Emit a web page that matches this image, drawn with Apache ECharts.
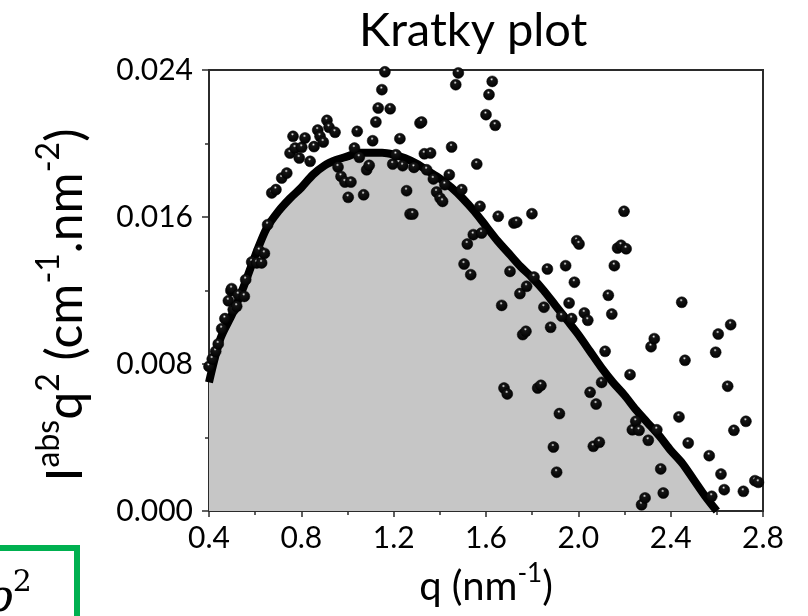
<!DOCTYPE html>
<html>
<head>
<meta charset="utf-8">
<style>
  html, body { margin: 0; padding: 0; background: #fff; }
  #chart { width: 808px; height: 616px; }
</style>
<script src="https://cdn.jsdelivr.net/npm/echarts@6/dist/echarts.min.js"></script>
</head>
<body>
<div id="chart"></div>
<script>
// Fitted Kratky curve (q in nm^-1, I*q^2 in cm^-1.nm^-2)
const fitQ = [0.40, 0.45, 0.50, 0.55, 0.60, 0.65, 0.70, 0.75, 0.80, 0.85,
              0.90, 0.95, 1.00, 1.05, 1.10, 1.15, 1.20, 1.25, 1.30, 1.35,
              1.40, 1.45, 1.50, 1.55, 1.60, 1.65, 1.70, 1.75, 1.80, 1.85,
              1.90, 1.95, 2.00, 2.05, 2.10, 2.15, 2.20, 2.25, 2.30, 2.35,
              2.40, 2.45, 2.50, 2.55, 2.60];
const fitI = [0.0070, 0.0094, 0.0107, 0.0122, 0.0139, 0.0154, 0.0163, 0.0170, 0.0176, 0.0183,
              0.0188, 0.0191, 0.0193, 0.0195, 0.0195, 0.0195, 0.0194, 0.0192, 0.0189, 0.0185,
              0.0181, 0.0176, 0.0170, 0.0163, 0.0155, 0.0147, 0.0140, 0.0133, 0.0127, 0.0120,
              0.0112, 0.0104, 0.0096, 0.0087, 0.0078, 0.0070, 0.0063, 0.0055, 0.0048, 0.0041,
              0.0033, 0.0026, 0.0017, 0.0008, 0.0000];

// Measured scattering points
const expQ = [0.400, 0.414, 0.429, 0.440, 0.455, 0.469, 0.484, 0.495, 0.498, 0.505,
              0.520, 0.527, 0.553, 0.559, 0.585, 0.607, 0.618, 0.628, 0.640, 0.654,
              0.672, 0.690, 0.715, 0.737, 0.751, 0.764, 0.773, 0.791, 0.802, 0.816,
              0.838, 0.855, 0.871, 0.881, 0.895, 0.911, 0.920, 0.946, 0.959, 0.972,
              0.989, 1.003, 1.015, 1.030, 1.042, 1.051, 1.070, 1.083, 1.094, 1.109,
              1.123, 1.133, 1.149, 1.162, 1.185, 1.196, 1.210, 1.227, 1.239, 1.256,
              1.271, 1.283, 1.288, 1.314, 1.321, 1.333, 1.343, 1.360, 1.372, 1.386,
              1.401, 1.412, 1.422, 1.441, 1.451, 1.469, 1.480, 1.495, 1.505, 1.519,
              1.534, 1.545, 1.560, 1.574, 1.581, 1.600, 1.613, 1.627, 1.640, 1.653,
              1.668, 1.678, 1.692, 1.704, 1.721, 1.733, 1.747, 1.759, 1.773, 1.776,
              1.799, 1.808, 1.824, 1.838, 1.851, 1.866, 1.880, 1.892, 1.906, 1.918,
              1.928, 1.945, 1.960, 1.971, 1.983, 1.993, 2.003, 2.026, 2.041, 2.051,
              2.065, 2.077, 2.091, 2.101, 2.116, 2.130, 2.145, 2.156, 2.170, 2.185,
              2.198, 2.207, 2.224, 2.234, 2.249, 2.263, 2.274, 2.289, 2.303, 2.315,
              2.329, 2.340, 2.357, 2.368, 2.436, 2.448, 2.462, 2.476, 2.567, 2.578,
              2.595, 2.606, 2.618, 2.632, 2.647, 2.660, 2.674, 2.715, 2.726, 2.765,
              2.780];
const expI = [0.00787, 0.00827, 0.00869, 0.00909, 0.00992, 0.01047, 0.01144, 0.01199, 0.01210, 0.01096,
              0.01114, 0.01177, 0.01168, 0.01259, 0.01355, 0.01350, 0.01417, 0.01350, 0.01402, 0.01558,
              0.01731, 0.01749, 0.01812, 0.01839, 0.01948, 0.02039, 0.01975, 0.01921, 0.01979, 0.02030,
              0.01903, 0.01983, 0.02073, 0.02039, 0.02008, 0.02126, 0.02088, 0.02061, 0.01872, 0.01821,
              0.01790, 0.01707, 0.01790, 0.01975, 0.02066, 0.01925, 0.01721, 0.01857, 0.01881, 0.02015,
              0.02117, 0.02193, 0.02293, 0.02390, 0.02189, 0.01888, 0.01939, 0.02026, 0.01879, 0.01743,
              0.01616, 0.01616, 0.01870, 0.02111, 0.02117, 0.01944, 0.01857, 0.01948, 0.01807, 0.01736,
              0.01703, 0.01685, 0.01776, 0.01830, 0.01981, 0.02320, 0.02384, 0.01749, 0.01344, 0.01453,
              0.01286, 0.01504, 0.01888, 0.01658, 0.01513, 0.02157, 0.02266, 0.02338, 0.02099, 0.01604,
              0.01119, 0.00669, 0.00637, 0.01304, 0.01567, 0.01572, 0.01183, 0.00960, 0.00978, 0.01223,
              0.01618, 0.01273, 0.00669, 0.00684, 0.01109, 0.01317, 0.01000, 0.00348, 0.00211, 0.00530,
              0.01060, 0.01335, 0.01132, 0.01047, 0.01245, 0.01471, 0.01453, 0.01078, 0.01038, 0.00646,
              0.00352, 0.00582, 0.00374, 0.00700, 0.00869, 0.01174, 0.01072, 0.01335, 0.01431, 0.01446,
              0.01631, 0.01427, 0.00742, 0.00442, 0.00488, 0.00439, 0.00034, 0.00071, 0.00385, 0.00894,
              0.00938, 0.00442, 0.00229, 0.00098, 0.00512, 0.01136, 0.00820, 0.00370, 0.00301, 0.00080,
              0.00864, 0.00963, 0.00201, 0.00116, 0.00679, 0.01014, 0.00439, 0.00107, 0.00488, 0.00165,
              0.00156];

const xTicks = ['0.4', '0.8', '1.2', '1.6', '2.0', '2.4', '2.8'];
const yTicks = ['0.000', '0.008', '0.016', '0.024'];

const FONT = 'Lato';
const AXIS_COLOR = '#2b2b2b';

const fitData = fitQ.map((q, i) => [q, fitI[i]]);
const expData = expQ.map((q, i) => [q, expI[i]]);

// Glossy black bead used for the measured points
const sphere = {
  type: 'radial', x: 0.45, y: 0.32, r: 0.7,
  colorStops: [
    { offset: 0, color: '#ffffff' },
    { offset: 0.08, color: '#9a9a9a' },
    { offset: 0.2, color: '#151515' },
    { offset: 1, color: '#000000' }
  ]
};

const chart = echarts.init(document.getElementById('chart'), null, { renderer: 'canvas' });

chart.setOption({
  animation: false,
  backgroundColor: '#ffffff',
  title: {
    text: 'Kratky plot',
    left: 354, top: 2,
    textStyle: { fontFamily: FONT, fontSize: 47, fontWeight: 'normal', color: '#000' }
  },
  grid: {
    left: 209, right: 45, top: 70, bottom: 105,
    show: true, borderColor: AXIS_COLOR, borderWidth: 2, backgroundColor: 'transparent'
  },
  xAxis: {
    type: 'value', min: 0.4, max: 2.8, interval: 0.4,
    name: '{m|q (nm}{s|-1}{m|)}',
    nameLocation: 'middle', nameGap: 50,
    nameTextStyle: {
      rich: {
        m: { fontFamily: FONT, fontSize: 40, color: '#000', lineHeight: 46, verticalAlign: 'bottom' },
        s: { fontFamily: FONT, fontSize: 26, color: '#000', lineHeight: 26, verticalAlign: 'top' }
      }
    },
    axisLine: { show: true, onZero: false, lineStyle: { color: AXIS_COLOR, width: 2 } },
    axisTick: { show: true, inside: false, length: 6, lineStyle: { color: AXIS_COLOR, width: 1.5 } },
    minorTick: { show: true, splitNumber: 2, length: 4, lineStyle: { color: AXIS_COLOR, width: 1.5 } },
    splitLine: { show: false },
    axisLabel: {
      margin: 12, fontFamily: FONT, fontSize: 30, color: '#000',
      formatter: v => xTicks[Math.round((v - 0.4) / 0.4)] ?? ''
    }
  },
  yAxis: {
    type: 'value', min: 0, max: 0.024, interval: 0.008,
    axisLine: { show: true, onZero: false, lineStyle: { color: AXIS_COLOR, width: 2 } },
    axisTick: { show: true, inside: false, length: 7, lineStyle: { color: AXIS_COLOR, width: 1.5 } },
    minorTick: { show: true, splitNumber: 2, length: 4, lineStyle: { color: AXIS_COLOR, width: 1.5 } },
    splitLine: { show: false },
    axisLabel: {
      margin: 16, fontFamily: FONT, fontSize: 30, color: '#000',
      formatter: v => yTicks[Math.round(v / 0.008)] ?? ''
    }
  },
  graphic: [
    {
      type: 'text', x: 62, y: 305, rotation: Math.PI / 2,
      style: {
        text: '{m|I}{s|abs}{m|q}{s|2}{m| (cm}{s|-1}{m|.nm}{s|-2}{m|)}',
        align: 'center', verticalAlign: 'middle',
        rich: {
          m: { fontFamily: FONT, fontSize: 50, fill: '#000', lineHeight: 58, verticalAlign: 'bottom' },
          s: { fontFamily: FONT, fontSize: 32, fill: '#000', lineHeight: 32, verticalAlign: 'top' }
        }
      }
    },
    {
      type: 'rect', shape: { x: -10, y: 548, width: 87, height: 90 },
      style: { fill: 'none', stroke: '#00b050', lineWidth: 6 }
    },
    {
      type: 'text', x: -13, y: 622,
      style: {
        text: '{p|ρ}{s|2}', verticalAlign: 'bottom',
        rich: {
          p: { fontFamily: 'DejaVu Serif', fontStyle: 'italic', fontSize: 44, fill: '#000', lineHeight: 54, verticalAlign: 'bottom' },
          s: { fontFamily: 'DejaVu Serif', fontSize: 30, fill: '#000', lineHeight: 30, verticalAlign: 'top' }
        }
      }
    }
  ],
  series: [
    {
      name: 'fit', type: 'line', data: fitData,
      smooth: 0.3, showSymbol: false, clip: true, z: 2,
      lineStyle: { color: '#000', width: 8 },
      areaStyle: { color: '#c6c6c6', opacity: 1 }
    },
    {
      name: 'data', type: 'scatter', data: expData,
      symbol: 'circle', symbolSize: 11, clip: false, z: 3,
      itemStyle: { color: sphere, borderColor: '#000', borderWidth: 0.5, opacity: 1 }
    }
  ]
});
</script>
</body>
</html>
